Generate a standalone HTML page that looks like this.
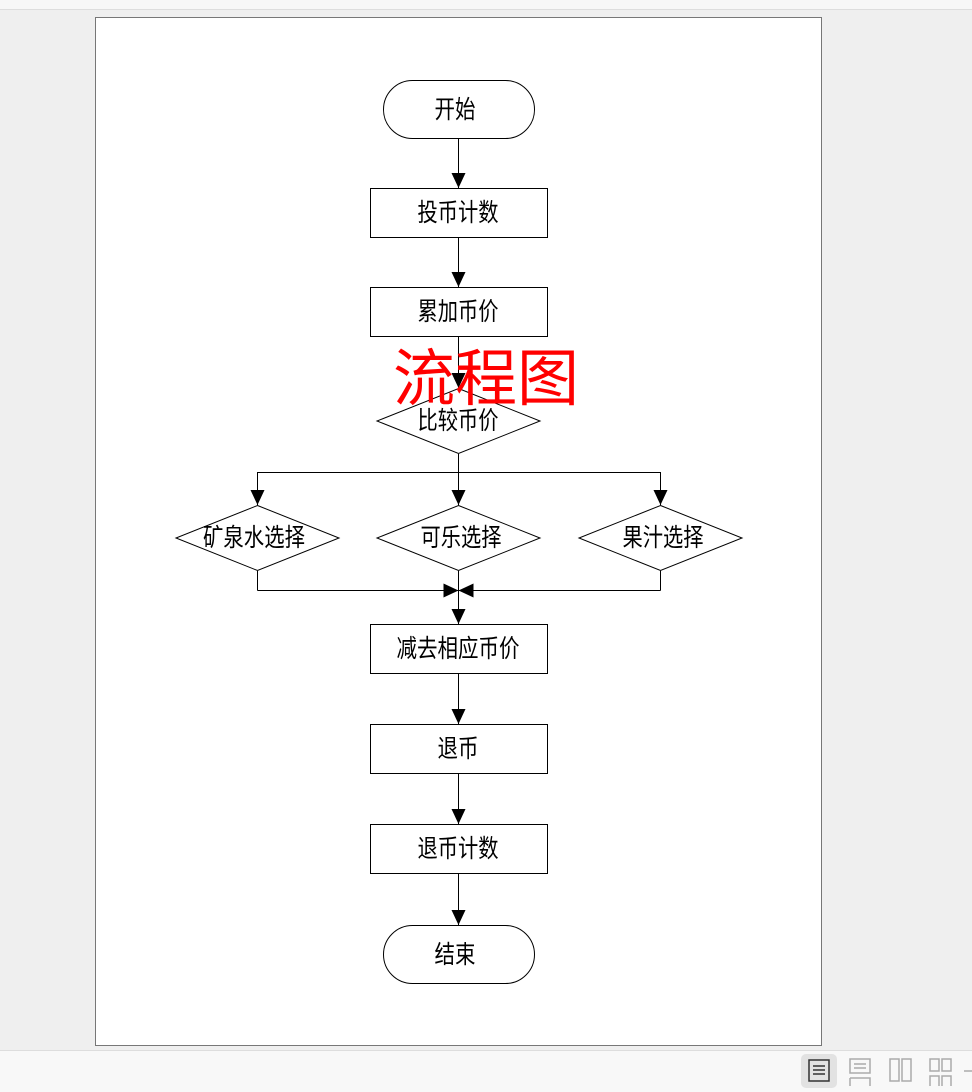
<!DOCTYPE html>
<html><head><meta charset="utf-8"><style>
html,body{margin:0;padding:0;width:972px;height:1092px;overflow:hidden;background:#efefef}
svg{display:block}
text{font-family:"Liberation Sans","Noto Sans CJK SC",sans-serif}
</style></head><body>
<svg width="972" height="1092" viewBox="0 0 972 1092" xmlns="http://www.w3.org/2000/svg">
<defs><marker id="a" markerWidth="18" markerHeight="18" refX="15" refY="7" orient="auto" markerUnits="userSpaceOnUse"><path d="M0,0 L15,7 L0,14 z" fill="#000"/></marker></defs>
<rect x="0" y="0" width="972" height="9" fill="#f7f7f7"/>
<line x1="0" y1="9.5" x2="972" y2="9.5" stroke="#ddd"/>
<rect x="95.5" y="17.5" width="726" height="1028" fill="#fff" stroke="#777"/>
<rect x="0" y="1050" width="972" height="42" fill="#f8f8f8"/>
<line x1="0" y1="1050.5" x2="972" y2="1050.5" stroke="#ddd"/>
<rect x="801" y="1054" width="36" height="34" rx="5" fill="#e2e2e2"/>
<rect x="809" y="1060" width="20" height="21" fill="none" stroke="#333" stroke-width="1.5"/>
<path d="M813 1066h12M813 1070h12M813 1074h12" stroke="#333" stroke-width="1.5"/>
<g stroke="#aaa" stroke-width="1.5" fill="none">
<rect x="850" y="1059" width="20" height="14"/><path d="M850 1078h20v8M850 1086v-8M854 1064h12M854 1068h12"/>
<rect x="890" y="1059" width="9" height="22"/><rect x="902" y="1059" width="9" height="22"/>
<rect x="930" y="1059" width="9" height="12"/><rect x="942" y="1059" width="9" height="12"/><path d="M930 1086v-10h9v10M942 1086v-10h9v10"/>
<path d="M964 1071h8"/>
</g>
<g stroke="#000" stroke-width="1" fill="none">
<rect x="383.5" y="80.5" width="151" height="58" rx="29"/>
<rect x="370.5" y="188.5" width="177" height="49"/>
<rect x="370.5" y="287.5" width="177" height="49"/>
<polygon points="458.5,388.5 540,421 458.5,453.5 377,421"/>
<polygon points="257.5,505.5 339,538 257.5,570.5 176,538"/>
<polygon points="458.5,505.5 540,538 458.5,570.5 377,538"/>
<polygon points="660.5,505.5 742,538 660.5,570.5 579,538"/>
<rect x="370.5" y="624.5" width="177" height="49"/>
<rect x="370.5" y="724.5" width="177" height="49"/>
<rect x="370.5" y="824.5" width="177" height="49"/>
<rect x="383.5" y="925.5" width="151" height="58" rx="29"/>
<line x1="458.5" y1="139" x2="458.5" y2="188" marker-end="url(#a)"/>
<line x1="458.5" y1="238" x2="458.5" y2="287" marker-end="url(#a)"/>
<line x1="458.5" y1="337" x2="458.5" y2="388" marker-end="url(#a)"/>
<path d="M458.5 454V472.5"/>
<path d="M257.5 472.5H660.5"/>
<line x1="257.5" y1="472" x2="257.5" y2="505" marker-end="url(#a)"/>
<line x1="458.5" y1="472" x2="458.5" y2="505" marker-end="url(#a)"/>
<line x1="660.5" y1="472" x2="660.5" y2="505" marker-end="url(#a)"/>
<path d="M257.5 571V590.5" /><path d="M660.5 571V590.5"/>
<line x1="257.5" y1="590.5" x2="458.5" y2="590.5" marker-end="url(#a)"/>
<line x1="660.5" y1="590.5" x2="458.5" y2="590.5" marker-end="url(#a)"/>
<line x1="458.5" y1="571" x2="458.5" y2="624" marker-end="url(#a)"/>
<line x1="458.5" y1="674" x2="458.5" y2="724" marker-end="url(#a)"/>
<line x1="458.5" y1="774" x2="458.5" y2="824" marker-end="url(#a)"/>
<line x1="458.5" y1="874" x2="458.5" y2="925" marker-end="url(#a)"/>
</g>
<g font-size="25" text-anchor="middle" fill="#000" lengthAdjust="spacingAndGlyphs">
<text x="455" y="118" textLength="41" lengthAdjust="spacingAndGlyphs">开始</text>
<text x="458" y="221" textLength="81" lengthAdjust="spacingAndGlyphs">投币计数</text>
<text x="458" y="320" textLength="81" lengthAdjust="spacingAndGlyphs">累加币价</text>
<text x="458" y="429" textLength="81" lengthAdjust="spacingAndGlyphs">比较币价</text>
<text x="254" y="546" textLength="102" lengthAdjust="spacingAndGlyphs">矿泉水选择</text>
<text x="461" y="546" textLength="81" lengthAdjust="spacingAndGlyphs">可乐选择</text>
<text x="663" y="546" textLength="81" lengthAdjust="spacingAndGlyphs">果汁选择</text>
<text x="458" y="657" textLength="123" lengthAdjust="spacingAndGlyphs">减去相应币价</text>
<text x="458" y="757" textLength="41" lengthAdjust="spacingAndGlyphs">退币</text>
<text x="458" y="857" textLength="81" lengthAdjust="spacingAndGlyphs">退币计数</text>
<text x="455" y="963" textLength="41" lengthAdjust="spacingAndGlyphs">结束</text>
</g>
<text x="486" y="400" font-size="62" text-anchor="middle" fill="#ff0000">流程图</text>
</svg>
</body></html>
